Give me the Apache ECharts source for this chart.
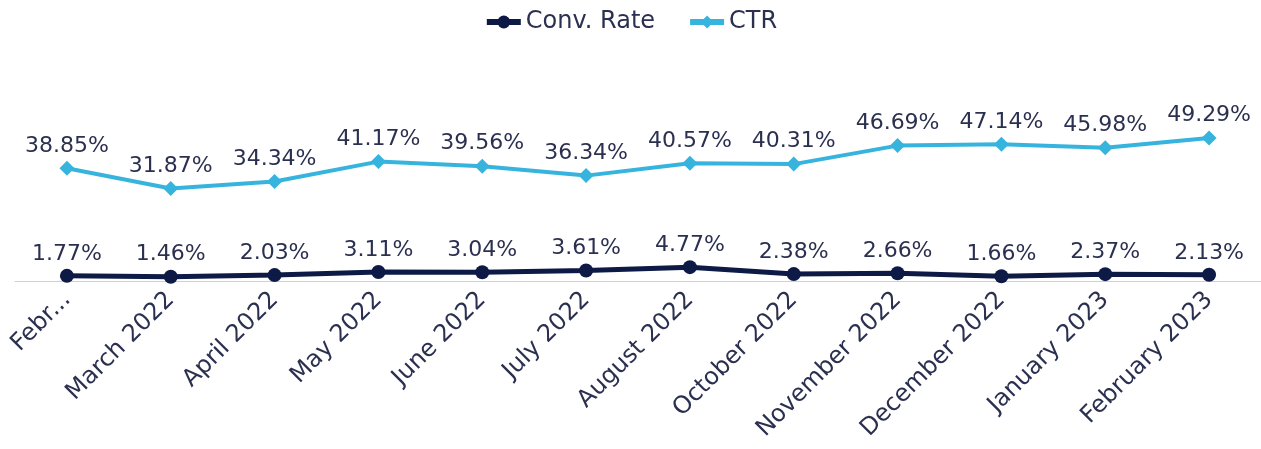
<!DOCTYPE html>
<html>
<head>
<meta charset="utf-8">
<style>
  html, body { margin: 0; padding: 0; background: #ffffff; }
  #chart { width: 1261px; height: 449px; }
</style>
<script src="https://cdn.jsdelivr.net/npm/echarts@6/dist/echarts.min.js"></script>
</head>
<body>
<div id="chart"></div>
<script>
const categories = ["February 2022", "March 2022", "April 2022", "May 2022", "June 2022", "July 2022", "August 2022", "October 2022", "November 2022", "December 2022", "January 2023", "February 2023"];
const convRate = [1.77, 1.46, 2.03, 3.11, 3.04, 3.61, 4.77, 2.38, 2.66, 1.66, 2.37, 2.13];
const ctr = [38.85, 31.87, 34.34, 41.17, 39.56, 36.34, 40.57, 40.31, 46.69, 47.14, 45.98, 49.29];

const textColor = '#2b3050';
const fontFamily = 'DejaVu Sans';

const chart = echarts.init(document.getElementById('chart'));
chart.setOption({
  animation: false,
  textStyle: { fontFamily: fontFamily },
  legend: {
    top: 5,
    left: 'center',
    itemWidth: 34,
    itemHeight: 16,
    itemGap: 32,
    lineStyle: { width: 6 },
    textStyle: { fontSize: 24, color: textColor, fontFamily: fontFamily },
    data: ['Conv. Rate', 'CTR']
  },
  grid: { left: 15, right: 0, top: 136, bottom: 168, containLabel: false },
  xAxis: {
    type: 'category',
    data: categories,
    boundaryGap: true,
    axisLine: { show: true, lineStyle: { color: '#c9d0de', width: 1 } },
    axisTick: { show: false },
    axisLabel: {
      rotate: 45,
      interval: 0,
      margin: 15,
      fontSize: 24,
      color: textColor,
      fontFamily: fontFamily,
      formatter: function (v, i) { return i === 0 ? v.slice(0, 4) + '...' : v; }
    }
  },
  yAxis: {
    type: 'value',
    min: 0,
    max: 50,
    show: false,
    splitLine: { show: false }
  },
  series: [
    {
      name: 'Conv. Rate',
      type: 'line',
      data: convRate,
      symbol: 'circle',
      symbolSize: 14,
      itemStyle: { color: '#0d1a45' },
      lineStyle: { color: '#0d1a45', width: 5 },
      label: {
        show: true,
        position: 'top',
        distance: 4,
        fontSize: 22,
        color: textColor,
        fontFamily: fontFamily,
        formatter: function (p) { return p.value.toFixed(2) + '%'; }
      }
    },
    {
      name: 'CTR',
      type: 'line',
      data: ctr,
      symbol: 'diamond',
      symbolSize: 15,
      itemStyle: { color: '#37b4dd' },
      lineStyle: { color: '#37b4dd', width: 4 },
      label: {
        show: true,
        position: 'top',
        distance: 4,
        fontSize: 22,
        color: textColor,
        fontFamily: fontFamily,
        formatter: function (p) { return p.value.toFixed(2) + '%'; }
      }
    }
  ]
});
</script>
</body>
</html>
